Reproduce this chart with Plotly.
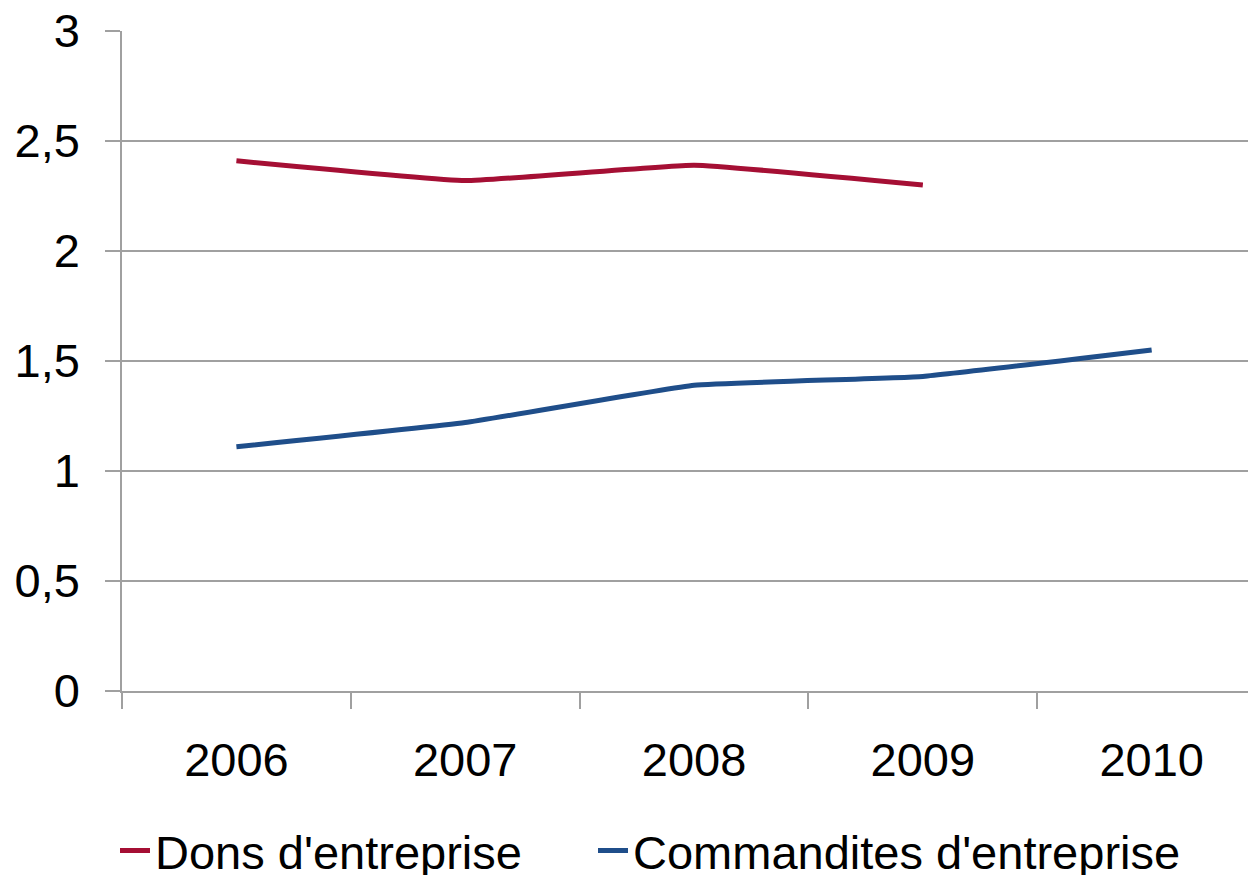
import plotly.graph_objects as go

years = ["2006", "2007", "2008", "2009", "2010"]
dons = [2.41, 2.32, 2.39, 2.30, None]
commandites = [1.11, 1.22, 1.39, 1.43, 1.55]
series_names = ["Dons d'entreprise", "Commandites d'entreprise"]
y_ticks = [0, 0.5, 1, 1.5, 2, 2.5, 3]
y_labels = ["0", "0,5", "1", "1,5", "2", "2,5", "3"]

RED = "#A50F34"
BLUE = "#1F4E8A"
GRID = "#A0A0A0"
FONT = "Liberation Sans, Arial, sans-serif"

W, H = 1248, 867  # page body adds an 8px offset

fig = go.Figure()
fig.add_trace(go.Scatter(x=years, y=dons, mode="lines", name=series_names[0],
                         line=dict(color=RED, width=5, shape="spline", smoothing=0.3),
                         connectgaps=False, legend="legend"))
fig.add_trace(go.Scatter(x=years, y=commandites, mode="lines", name=series_names[1],
                         line=dict(color=BLUE, width=5, shape="spline", smoothing=0.3),
                         legend="legend2"))

leg_common = dict(orientation="h", xref="container", xanchor="left",
                  yref="container", y=24 / H, yanchor="middle",
                  font=dict(size=47, family=FONT), itemwidth=30,
                  bgcolor="rgba(0,0,0,0)")

fig.update_layout(
    width=W, height=H,
    margin=dict(l=114, r=0, t=23, b=184, autoexpand=False),
    paper_bgcolor="white", plot_bgcolor="white",
    font=dict(family=FONT, size=47, color="black"),
    showlegend=True,
    legend=dict(x=107 / W, **leg_common),
    legend2=dict(x=585 / W, **leg_common),
)

fig.update_xaxes(
    type="category", range=[-0.5, 4.456], automargin=False,
    showline=True, linecolor=GRID, linewidth=1.5,
    showgrid=False, zeroline=False,
    ticks="outside", tickson="boundaries", ticklen=16, tickcolor=GRID, tickwidth=1.5,
    tickfont=dict(size=47, family=FONT), ticklabelstandoff=27,
)
fig.update_yaxes(
    range=[0, 3], tickvals=y_ticks, ticktext=y_labels, automargin=False,
    showline=True, linecolor=GRID, linewidth=1.5,
    showgrid=True, gridcolor=GRID, gridwidth=1.5, zeroline=False,
    ticks="outside", ticklen=15, tickcolor=GRID, tickwidth=1.5,
    tickfont=dict(size=47, family=FONT), ticklabelstandoff=16,
    ticklabeloverflow="allow",
)

fig.write_html("out.html")
